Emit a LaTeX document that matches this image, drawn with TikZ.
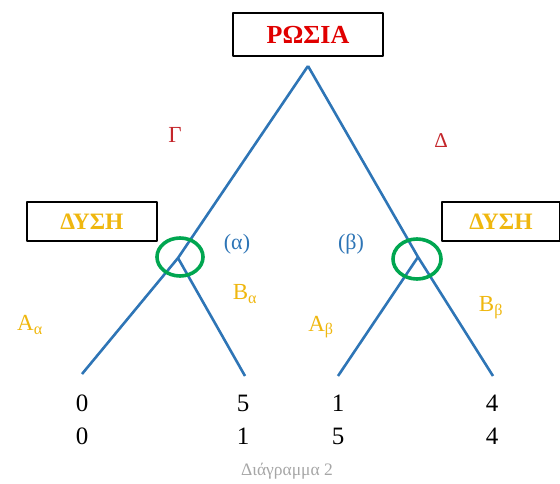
\documentclass[tikz,border=0pt]{standalone}
\usepackage{fontspec}
\setmainfont{Liberation Serif}
\usetikzlibrary{positioning}

\definecolor{treeblue}{HTML}{2E75B6}
\definecolor{markgreen}{HTML}{00A650}
\definecolor{goldtxt}{HTML}{EFB70F}
\definecolor{redtxt}{HTML}{E00000}
\definecolor{darkred}{HTML}{C4262B}

\tikzset{
  player/.style={draw, line width=1.4pt, inner sep=0pt, font=\bfseries},
  branch/.style={draw=treeblue, line width=2.6pt},
  pick/.style={draw=markgreen, line width=3.6pt},
  move/.style={font=\fontsize{23}{23}\selectfont},
  pay/.style={font=\fontsize{25}{25}\selectfont}
}

\begin{document}
\begin{tikzpicture}[x=1pt, y=-1pt, line join=round]
    \useasboundingbox (0,0) rectangle (560,484);

    % Παίκτες
    \node[player, text=redtxt, minimum width=150pt, minimum height=43pt,
          font=\bfseries\fontsize{26}{26}\selectfont] (rosia) at (308,34.5) {ΡΩΣΙΑ};
    \node[player, text=goldtxt, minimum width=130pt, minimum height=39pt,
          font=\bfseries\fontsize{23.5}{23.5}\selectfont] (dysiA) at (92,221.5) {ΔΥΣΗ};
    \node[player, text=goldtxt, minimum width=118pt, minimum height=39pt,
          font=\bfseries\fontsize{23.5}{23.5}\selectfont] (dysiB) at (501,221.5) {ΔΥΣΗ};

    % Κόμβοι του δέντρου
    \coordinate (root) at (308,66);
    \coordinate (nA) at (178,258);
    \coordinate (nB) at (418,257);
    \coordinate (leafA1) at (82,374);
    \coordinate (leafA2) at (245,376);
    \coordinate (leafB1) at (338,376);
    \coordinate (leafB2) at (493,376);

    % Κλαδιά
    \draw[branch] (root) -- (nA) -- (leafA1);
    \draw[branch] (nA) -- (leafA2);
    \draw[branch] (root) -- (nB) -- (leafB2);
    \draw[branch] (nB) -- (leafB1);

    % Επιλογές της Δύσης
    \draw[pick] (180,257) ellipse [x radius=23, y radius=19];
    \draw[pick] (417,259) ellipse [x radius=24, y radius=20];

    % Ετικέτες κινήσεων
    \node[move, text=darkred] (gamma) at (175,135) {Γ};
    \node[move, text=darkred, font=\fontsize{21}{21}\selectfont] (delta) at (441,141) {Δ};
    \node[move, text=treeblue, font=\fontsize{22}{22}\selectfont] (alpha) at (237,244) {(α)};
    \node[move, text=treeblue, font=\fontsize{22}{22}\selectfont] (beta) at (351,244) {(β)};
    \node[move, text=goldtxt] (Aa) at (30,325) {A\textsubscript{α}};
    \node[move, text=goldtxt] (Ba) at (245,294) {B\textsubscript{α}};
    \node[move, text=goldtxt] (Ab) at (321,327) {A\textsubscript{β}};
    \node[move, text=goldtxt] (Bb) at (491,308) {B\textsubscript{β}};

    % Αποδόσεις
    \foreach \x/\a/\b [count=\i] in {82/0/0, 243/5/1, 338/1/5, 492/4/4} {
        \node[pay] (payR\i) at (\x,403) {\a};
        \node[pay] (payD\i) at (\x,436) {\b};
    }

    \node[text=black!35, font=\fontsize{17.5}{17.5}\selectfont] (caption) at (287,471) {Διάγραμμα 2};
\end{tikzpicture}
\end{document}
